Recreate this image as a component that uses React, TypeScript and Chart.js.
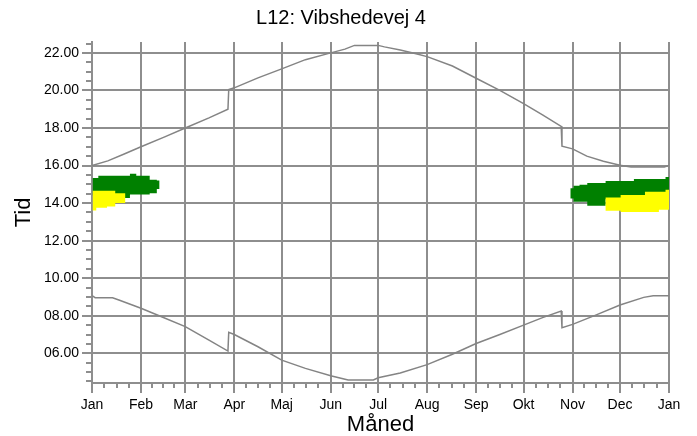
import React, { useEffect, useRef } from 'react';
import { Chart, registerables } from 'chart.js';

Chart.register(...registerables);

// ---- Text ----
const chartTitle = 'L12: Vibshedevej 4';
const xAxisTitle = 'Måned';
const yAxisTitle = 'Tid';

// ---- Axis ticks ----
const monthLabels = ['Jan', 'Feb', 'Mar', 'Apr', 'Maj', 'Jun', 'Jul', 'Aug', 'Sep', 'Okt', 'Nov', 'Dec', 'Jan'];
const monthStartDays = [0, 31, 59, 90, 120, 151, 181, 212, 243, 273, 304, 334, 365];
const timeTicks = [6, 8, 10, 12, 14, 16, 18, 20, 22];
const timeMin = 4.42;
const timeMax = 22.58;
const minorTimeStep = 0.5;

// ---- Sun curves (day of year, hours) ----
const sunsetDays = [0, 10, 20, 31, 46, 59, 74, 86, 86.5, 90, 105, 120, 135, 151, 160, 166, 181, 185, 195, 205, 212, 228, 243, 258, 273, 285, 296.8, 297.3, 304, 313, 323.5, 334, 341, 362, 365];
const sunsetTimes = [16.0, 16.25, 16.6, 17.0, 17.53, 18.0, 18.54, 19.0, 20.05, 20.14, 20.67, 21.15, 21.64, 22.0, 22.2, 22.4, 22.4, 22.32, 22.15, 21.95, 21.8, 21.3, 20.65, 20.0, 19.3, 18.7, 18.09, 17.03, 16.89, 16.5, 16.23, 16.02, 15.92, 15.92, 16.0];

const sunriseDays = [0, 2, 13, 17, 31, 44, 59, 74, 86, 86.5, 90, 105, 120, 135, 151, 162, 178, 181, 195, 212, 228, 243, 258, 273, 285, 296.8, 297.3, 304, 319, 334, 349, 355, 365];
const sunriseTimes = [9.07, 8.96, 8.96, 8.84, 8.4, 7.95, 7.42, 6.7, 6.12, 7.12, 7.0, 6.35, 5.64, 5.2, 4.81, 4.58, 4.58, 4.7, 4.95, 5.4, 5.95, 6.52, 7.0, 7.5, 7.9, 8.25, 7.36, 7.54, 8.05, 8.57, 8.98, 9.07, 9.07];

// ---- Shadow periods (interval boundaries in days, top/bottom hours per interval) ----
const greenJanDays = [0.5, 4, 19.7, 24, 28, 36.5, 41, 42.6];
const greenJanTop = [15.34, 15.46, 15.46, 15.57, 15.46, 15.25, 15.2];
const greenJanBottom = [14.4, 14.4, 14.27, 14.46, 14.46, 14.53, 14.75];

const yellowJanDays = [0.5, 2.7, 9.5, 14.7, 21];
const yellowJanTop = [14.66, 14.66, 14.66, 14.53];
const yellowJanBottom = [13.6, 13.75, 13.82, 14.0];

const greenNovDays = [302.7, 304.6, 308.4, 313.3, 324.9, 342.8, 362.8, 365];
const greenNovTop = [14.79, 14.93, 14.98, 15.07, 15.18, 15.28, 15.39];
const greenNovBottom = [14.25, 14.07, 14.07, 13.86, 14.2, 14.2, 14.2];

const yellowNovDays = [324.9, 334.4, 349.8, 358.6, 362.8, 365];
const yellowNovTop = [14.3, 14.43, 14.6, 14.6, 14.71];
const yellowNovBottom = [13.59, 13.53, 13.53, 13.64, 13.64];

// ---- Styles ----
const FONT = 'Arial, "Liberation Sans", sans-serif';
const GRID = '#8e8e8e';
const CURVE = '#848484';
const GREEN = '#008000';
const YELLOW = '#ffff00';

function toPoints(xs: number[], ys: number[]) {
  return xs.map((x, i) => ({ x, y: ys[i] }));
}

function stepPolygon(days: number[], top: number[], bottom: number[]) {
  const pts: { x: number; y: number }[] = [];
  for (let i = 0; i < top.length; i++) {
    pts.push({ x: days[i], y: top[i] }, { x: days[i + 1], y: top[i] });
  }
  for (let i = bottom.length - 1; i >= 0; i--) {
    pts.push({ x: days[i + 1], y: bottom[i] }, { x: days[i], y: bottom[i] });
  }
  return pts;
}

const minorTicksPlugin = {
  id: 'minorTicks',
  afterDraw(chart: any) {
    const { ctx, chartArea } = chart;
    const x = chart.scales.x;
    const y = chart.scales.y;
    ctx.save();
    ctx.strokeStyle = GRID;
    ctx.lineWidth = 2;
    ctx.beginPath();
    for (let i = 0; i < monthStartDays.length - 1; i++) {
      const a = monthStartDays[i];
      const b = monthStartDays[i + 1];
      for (let k = 1; k <= 3; k++) {
        const px = Math.round(x.getPixelForValue(a + ((b - a) * k) / 4));
        ctx.moveTo(px, chartArea.bottom);
        ctx.lineTo(px, chartArea.bottom + 5);
      }
    }
    for (let v = Math.ceil(timeMin / minorTimeStep) * minorTimeStep; v <= timeMax; v += minorTimeStep) {
      if (timeTicks.includes(v)) continue;
      const py = Math.round(y.getPixelForValue(v));
      ctx.moveTo(chartArea.left - 6, py);
      ctx.lineTo(chartArea.left, py);
    }
    ctx.stroke();
    ctx.restore();
  },
};

export default function App() {
  const canvasRef = useRef<HTMLCanvasElement | null>(null);

  useEffect(() => {
    if (!canvasRef.current) return;
    const blob = (data: any[], color: string) => ({
      data,
      backgroundColor: color,
      borderColor: color,
      borderWidth: 0,
      showLine: true,
      pointRadius: 0,
      fill: 'shape',
      tension: 0,
    });
    const curve = (data: any[]) => ({
      data,
      borderColor: CURVE,
      borderWidth: 1.5,
      pointRadius: 0,
      fill: false,
      tension: 0,
    });

    const chart = new Chart(canvasRef.current, {
      type: 'line',
      data: {
        datasets: [
          blob(stepPolygon(yellowJanDays, yellowJanTop, yellowJanBottom), YELLOW),
          blob(stepPolygon(yellowNovDays, yellowNovTop, yellowNovBottom), YELLOW),
          blob(stepPolygon(greenJanDays, greenJanTop, greenJanBottom), GREEN),
          blob(stepPolygon(greenNovDays, greenNovTop, greenNovBottom), GREEN),
          curve(toPoints(sunsetDays, sunsetTimes)),
          curve(toPoints(sunriseDays, sunriseTimes)),
        ] as any,
      },
      options: {
        responsive: false,
        animation: false,
        events: [],
        layout: { padding: { left: 13, right: 28, top: 0, bottom: 0 } },
        plugins: {
          legend: { display: false },
          tooltip: { enabled: false },
          title: {
            display: true,
            text: chartTitle,
            color: '#000',
            font: { family: FONT, size: 20, weight: 'normal' },
            padding: { top: 6, bottom: 12 },
          },
        },
        scales: {
          x: {
            type: 'linear',
            min: 0,
            max: 365,
            z: 1,
            afterBuildTicks: (s: any) => {
              s.ticks = monthStartDays.map((v) => ({ value: v }));
            },
            afterFit: (s: any) => {
              s.height = 53;
            },
            ticks: {
              autoSkip: false,
              maxRotation: 0,
              color: '#000',
              padding: 4,
              font: { family: FONT, size: 14 },
              callback: (_v: any, i: number) => monthLabels[i],
            },
            grid: { color: GRID, lineWidth: 2, tickLength: 10 },
            border: { display: true, color: GRID, width: 2 },
            title: {
              display: true,
              text: xAxisTitle,
              color: '#000',
              font: { family: FONT, size: 22, lineHeight: 1 },
              padding: { top: 0, bottom: 0 },
            },
          },
          y: {
            type: 'linear',
            min: timeMin,
            max: timeMax,
            z: 1,
            afterBuildTicks: (s: any) => {
              s.ticks = timeTicks.map((v) => ({ value: v }));
            },
            afterFit: (s: any) => {
              s.width = 79;
            },
            ticks: {
              autoSkip: false,
              color: '#000',
              padding: 3,
              font: { family: FONT, size: 14 },
              callback: (v: any) => Number(v).toFixed(2).padStart(5, '0'),
            },
            grid: { color: GRID, lineWidth: 2, tickLength: 10 },
            border: { display: true, color: GRID, width: 2 },
            title: {
              display: true,
              text: yAxisTitle,
              color: '#000',
              font: { family: FONT, size: 22, lineHeight: 1 },
              padding: { top: 0, bottom: 0 },
            },
          },
        },
      } as any,
      plugins: [minorTicksPlugin],
    });
    return () => chart.destroy();
  }, []);

  return (
    <div style={{ position: 'fixed', left: 0, top: 0, width: 697, height: 436, background: '#fff' }}>
      <canvas ref={canvasRef} width={697} height={436} style={{ display: 'block' }} />
    </div>
  );
}
